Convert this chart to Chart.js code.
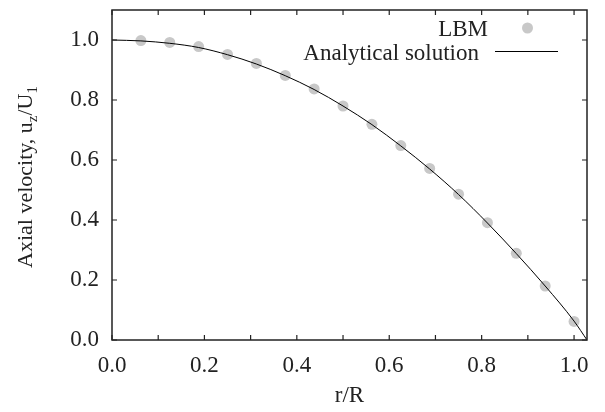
<!DOCTYPE html>
<html>
<head>
<meta charset="utf-8">
<script src="https://cdn.jsdelivr.net/npm/chart.js@4/dist/chart.umd.min.js"></script>
<style>
  html, body { margin: 0; padding: 0; background: #fff; }
  #wrap { width: 605px; height: 412px; }
</style>
</head>
<body>
<div id="wrap"><canvas id="chart_velocity_profile"></canvas></div>
<script>
// radial positions and velocities
const lbmR = [0.0625, 0.125, 0.1875, 0.25, 0.3125, 0.375, 0.4375, 0.5,
              0.5625, 0.625, 0.6875, 0.75, 0.8125, 0.875, 0.9375, 1.0];
const lbmU = [0.998, 0.992, 0.978, 0.952, 0.922, 0.882, 0.837, 0.780,
              0.719, 0.648, 0.572, 0.486, 0.391, 0.289, 0.180, 0.062];

const exactR = [0, 0.0625, 0.125, 0.1875, 0.25, 0.3125, 0.375, 0.4375, 0.5,
                0.5625, 0.625, 0.6875, 0.75, 0.8125, 0.875, 0.9375, 1.0, 1.028];
const exactU = [1.0, 0.997, 0.989, 0.975, 0.951, 0.920, 0.881, 0.835, 0.780,
                0.718, 0.647, 0.570, 0.485, 0.390, 0.288, 0.180, 0.063, 0];

const xTicks = [0, 0.2, 0.4, 0.6, 0.8, 1.0];
const yTicks = [0, 0.2, 0.4, 0.6, 0.8, 1.0];

const serif = "'Liberation Serif', 'Times New Roman', serif";
const fontPx = 23;
const titlePx = 22;
const dotColor = 'rgb(200, 200, 200)';

const toXY = (xs, ys) => xs.map((x, i) => ({ x: x, y: ys[i] }));

// frame, inward ticks, axis titles and key
const framePlugin = {
  id: 'frame',
  afterDraw(chart) {
    const { ctx, chartArea: a, scales: { x, y } } = chart;
    ctx.save();
    ctx.strokeStyle = '#222';
    ctx.lineWidth = 1.5;
    ctx.strokeRect(a.left, a.top, a.right - a.left, a.bottom - a.top);

    ctx.lineWidth = 1.2;
    ctx.beginPath();
    x.ticks.forEach(t => {
      const px = x.getPixelForValue(t.value);
      ctx.moveTo(px, a.bottom); ctx.lineTo(px, a.bottom - 5);
      ctx.moveTo(px, a.top); ctx.lineTo(px, a.top + 5);
    });
    y.ticks.forEach(t => {
      const py = y.getPixelForValue(t.value);
      ctx.moveTo(a.left, py); ctx.lineTo(a.left + 5, py);
      ctx.moveTo(a.right, py); ctx.lineTo(a.right - 5, py);
    });
    ctx.stroke();

    ctx.fillStyle = '#222';
    ctx.font = fontPx + 'px ' + serif;

    // x title
    ctx.textAlign = 'center';
    ctx.textBaseline = 'alphabetic';
    ctx.fillText('r/R', (a.left + a.right) / 2, 402);

    // y title with subscripts
    const parts = [
      ['Axial velocity, u', false], ['z', true], ['/U', false], ['1', true]
    ];
    const subPx = Math.round(titlePx * 0.7);
    const widthOf = ([s, sub]) => {
      ctx.font = (sub ? subPx : titlePx) + 'px ' + serif;
      return ctx.measureText(s).width;
    };
    const total = parts.reduce((w, p) => w + widthOf(p), 0);
    ctx.translate(32, (a.top + a.bottom) / 2 + 2);
    ctx.rotate(-Math.PI / 2);
    ctx.textAlign = 'left';
    let cx = -total / 2;
    parts.forEach(p => {
      const w = widthOf(p);
      ctx.fillText(p[0], cx, p[1] ? 5 : 0);
      cx += w;
    });
    ctx.setTransform(1, 0, 0, 1, 0, 0);

    // key
    const lbm = chart.data.datasets[1];
    const exact = chart.data.datasets[0];
    ctx.font = fontPx + 'px ' + serif;
    ctx.textAlign = 'right';
    ctx.fillText('LBM', 488, 36);
    ctx.fillText('Analytical solution', 479, 60);
    ctx.fillStyle = lbm.backgroundColor;
    ctx.beginPath();
    ctx.arc(527.5, 28, lbm.pointRadius, 0, Math.PI * 2);
    ctx.fill();
    ctx.strokeStyle = exact.borderColor;
    ctx.lineWidth = exact.borderWidth;
    ctx.beginPath();
    ctx.moveTo(495, 51.5); ctx.lineTo(558, 51.5);
    ctx.stroke();
    ctx.restore();
  }
};

const data = {
  datasets: [
    {
      label: 'Analytical solution',
      data: toXY(exactR, exactU),
      showLine: true,
      borderColor: '#000',
      borderWidth: 1,
      pointRadius: 0,
      cubicInterpolationMode: 'monotone',
      order: 0
    },
    {
      label: 'LBM',
      data: toXY(lbmR, lbmU),
      showLine: false,
      backgroundColor: dotColor,
      borderWidth: 0,
      pointRadius: 5.5,
      order: 1
    }
  ]
};

// keep the plot box fixed: no extra room for overhanging tick labels
const noLabelPadding = s => {
  s.paddingTop = 0; s.paddingBottom = 0;
  s.paddingLeft = 0; s.paddingRight = 0;
};

const options = {
  responsive: true,
  maintainAspectRatio: false,
  animation: false,
  layout: { padding: { left: 0, right: 18, top: 10, bottom: 0 } },
  plugins: { legend: { display: false }, tooltip: { enabled: false } },
  scales: {
    x: {
      type: 'linear',
      min: 0,
      max: 1.028,
      grid: { display: false, drawTicks: false },
      border: { display: false },
      afterFit: s => { s.height = 72; noLabelPadding(s); },
      ticks: {
        stepSize: 0.1,
        includeBounds: false,
        padding: 12,
        color: '#222',
        font: { family: serif, size: fontPx },
        maxRotation: 0,
        autoSkip: false,
        callback: v => {
          const hit = xTicks.find(t => Math.abs(t - v) < 1e-6);
          return hit === undefined ? '' : hit.toFixed(1);
        }
      }
    },
    y: {
      type: 'linear',
      min: 0,
      max: 1.1,
      grid: { display: false, drawTicks: false },
      border: { display: false },
      afterFit: s => { s.width = 112; noLabelPadding(s); },
      ticks: {
        stepSize: 0.2,
        includeBounds: false,
        padding: 13,
        color: '#222',
        font: { family: serif, size: fontPx },
        autoSkip: false,
        callback: v => {
          const hit = yTicks.find(t => Math.abs(t - v) < 1e-6);
          return hit === undefined ? '' : hit.toFixed(1);
        }
      }
    }
  }
};

new Chart('chart_velocity_profile', { type: 'scatter', data, options, plugins: [framePlugin] });
</script>
</body>
</html>
